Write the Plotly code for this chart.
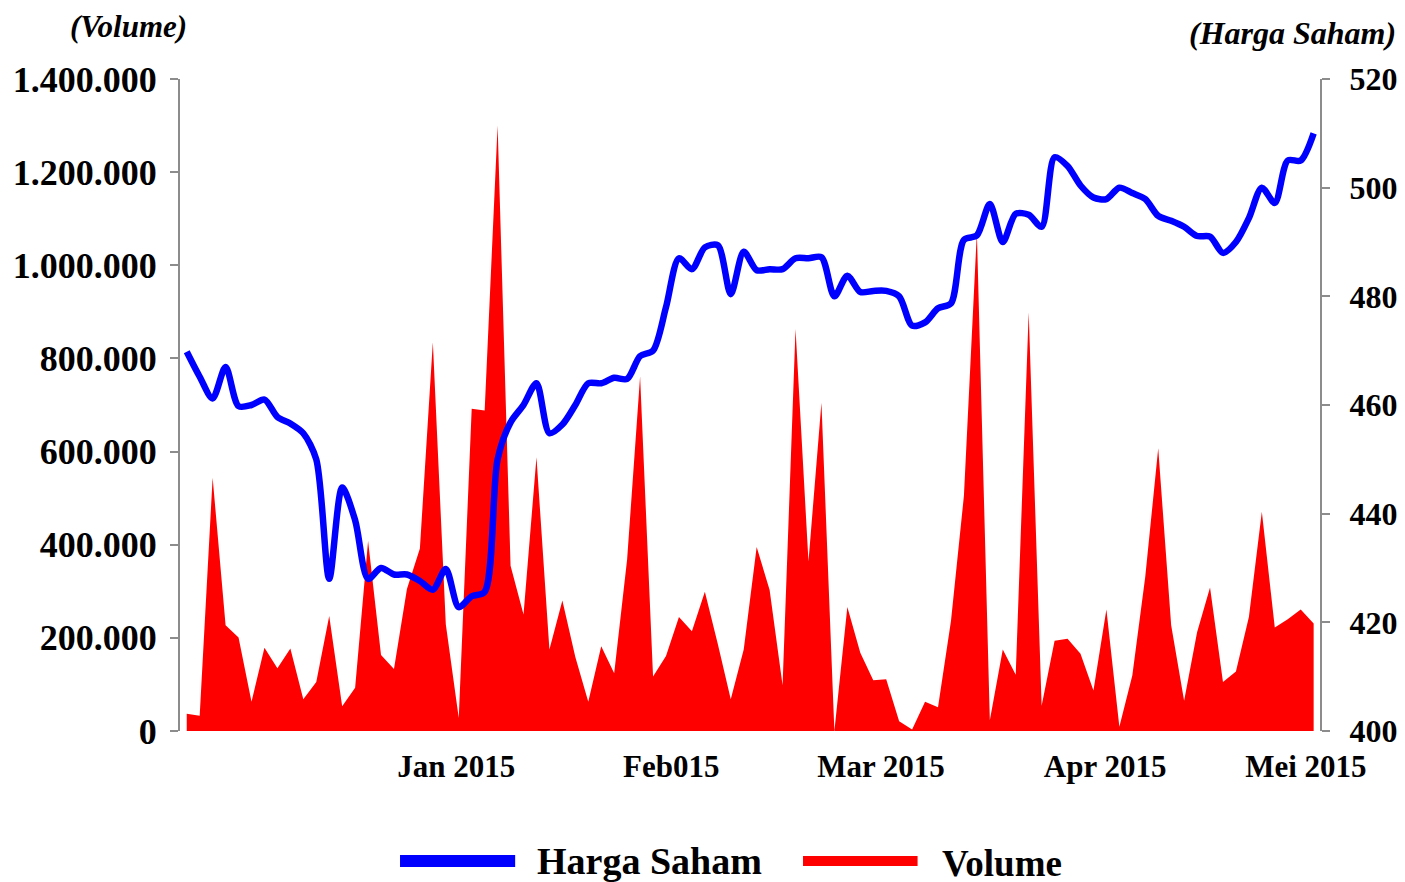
import plotly.graph_objects as go
from plotly.subplots import make_subplots

# daily volume (lembar) and closing price (Rp)
volume = [37000, 33000, 544000, 227000, 201000, 63000, 179000, 135000, 177000, 68000,
          105000, 247000, 53000, 93000, 408000, 163000, 133000, 305000, 392000, 835000,
          229000, 28000, 692000, 688000, 1300000, 355000, 250000, 588000, 175000, 280000,
          159000, 63000, 182000, 124000, 369000, 761000, 117000, 161000, 245000, 214000,
          299000, 187000, 68000, 175000, 395000, 303000, 98000, 863000, 364000, 705000,
          0, 266000, 168000, 109000, 111000, 21000, 3000, 63000, 51000, 236000,
          505000, 1070000, 23000, 175000, 121000, 899000, 54000, 194000, 198000, 166000,
          87000, 261000, 9000, 119000, 331000, 607000, 227000, 65000, 212000, 308000,
          105000, 128000, 245000, 471000, 222000, 240000, 261000, 231000]

harga = [469.8, 465.2, 461.2, 467, 459.8, 460, 461, 457.8, 456.6, 454.8,
         450, 428, 444.8, 438.8, 428, 430, 428.8, 428.8, 427.6, 426,
         429.8, 422.8, 424.8, 425.6, 450, 456.8, 460, 464, 454.8, 456.4,
         460, 464, 464, 465, 464.8, 469, 470, 478, 487, 485,
         489, 489.4, 480.4, 488.2, 484.8, 485, 485, 487, 487, 487.2,
         480, 483.8, 480.8, 481, 481, 480, 474.6, 475.2, 477.8, 478.7,
         490.4, 491.2, 497, 490, 495.2, 495, 492.8, 505.6, 504, 500.4,
         498.2, 497.9, 500, 499, 497.9, 494.8, 493.9, 492.8, 491.1, 491,
         488, 490, 494.4, 500, 497.2, 505, 505, 510]

bulan = ["Jan 2015", "Feb015", "Mar 2015", "Apr 2015", "Mei 2015"]
bulan_pos = [20.8, 37.4, 53.6, 70.9, 86.4]

hari = list(range(len(volume)))

FONT = "Liberation Serif"

fig = make_subplots(specs=[[{"secondary_y": True}]])

fig.add_trace(go.Scatter(
    x=hari, y=volume, mode="lines", fill="tozeroy",
    line=dict(width=0, color="#ff0000"), fillcolor="#ff0000",
    name="Volume", showlegend=False), secondary_y=False)

fig.add_trace(go.Scatter(
    x=hari, y=harga, mode="lines",
    line=dict(color="#0000ff", width=6.5, shape="spline", smoothing=0.8),
    name="Harga Saham", showlegend=False), secondary_y=True)

fig.update_xaxes(range=[-0.52, 87.49], domain=[0, 1], showgrid=False, zeroline=False,
                 showline=False, tickvals=bulan_pos, ticktext=bulan, ticks="",
                 automargin=False,
                 tickfont=dict(family=FONT, size=31, color="black", weight="bold"),
                 ticklabelstandoff=14)

fig.update_yaxes(range=[0, 1400000], tickvals=list(range(0, 1400001, 200000)),
                 tickformat=",d", showgrid=False, zeroline=False, automargin=False,
                 showline=True, linecolor="#8c8c8c", linewidth=2,
                 ticks="outside", ticklen=8, tickcolor="#8c8c8c", tickwidth=2,
                 tickfont=dict(family=FONT, size=36, color="black", weight="bold"),
                 ticklabelstandoff=6, secondary_y=False)

fig.update_yaxes(range=[400, 520], tickvals=list(range(400, 521, 20)),
                 showgrid=False, zeroline=False, automargin=False,
                 showline=True, linecolor="#8c8c8c", linewidth=2,
                 ticks="outside", ticklen=8, tickcolor="#8c8c8c", tickwidth=2,
                 tickfont=dict(family=FONT, size=32, color="black", weight="bold"),
                 ticklabelstandoff=13, secondary_y=True)

# axis captions
fig.add_annotation(text="<b><i>(Volume)</i></b>", xref="paper", yref="paper",
                   x=-0.0456, y=1.080, xanchor="center", yanchor="middle",
                   showarrow=False, font=dict(family=FONT, size=31, color="black"))
fig.add_annotation(text="<b><i>(Harga Saham)</i></b>", xref="paper", yref="paper",
                   x=0.9763, y=1.070, xanchor="center", yanchor="middle",
                   showarrow=False, font=dict(family=FONT, size=32, color="black"))

# legend drawn by hand (long thick swatches)
fig.add_shape(type="line", xref="paper", yref="paper", x0=0.193, x1=0.294,
              y0=-0.1994, y1=-0.1994, line=dict(color="#0000ff", width=12))
fig.add_shape(type="line", xref="paper", yref="paper", x0=0.5465, x1=0.647,
              y0=-0.1994, y1=-0.1994, line=dict(color="#ff0000", width=10))
fig.add_annotation(text="<b>Harga Saham</b>", xref="paper", yref="paper",
                   x=0.3114, y=-0.1994, xanchor="left", yanchor="middle",
                   showarrow=False, font=dict(family=FONT, size=38, color="black"))
fig.add_annotation(text="<b>Volume</b>", xref="paper", yref="paper",
                   x=0.6667, y=-0.203, xanchor="left", yanchor="middle",
                   showarrow=False, font=dict(family=FONT, size=37, color="black"))

# page body adds an 8px offset, so margins are shifted to keep the plot box in place
fig.update_layout(
    width=1405, height=882,
    margin=dict(l=172, r=93, t=71, b=159, autoexpand=False),
    plot_bgcolor="white", paper_bgcolor="white",
    separators=",.",
    showlegend=False,
)

fig.write_html("out.html")
